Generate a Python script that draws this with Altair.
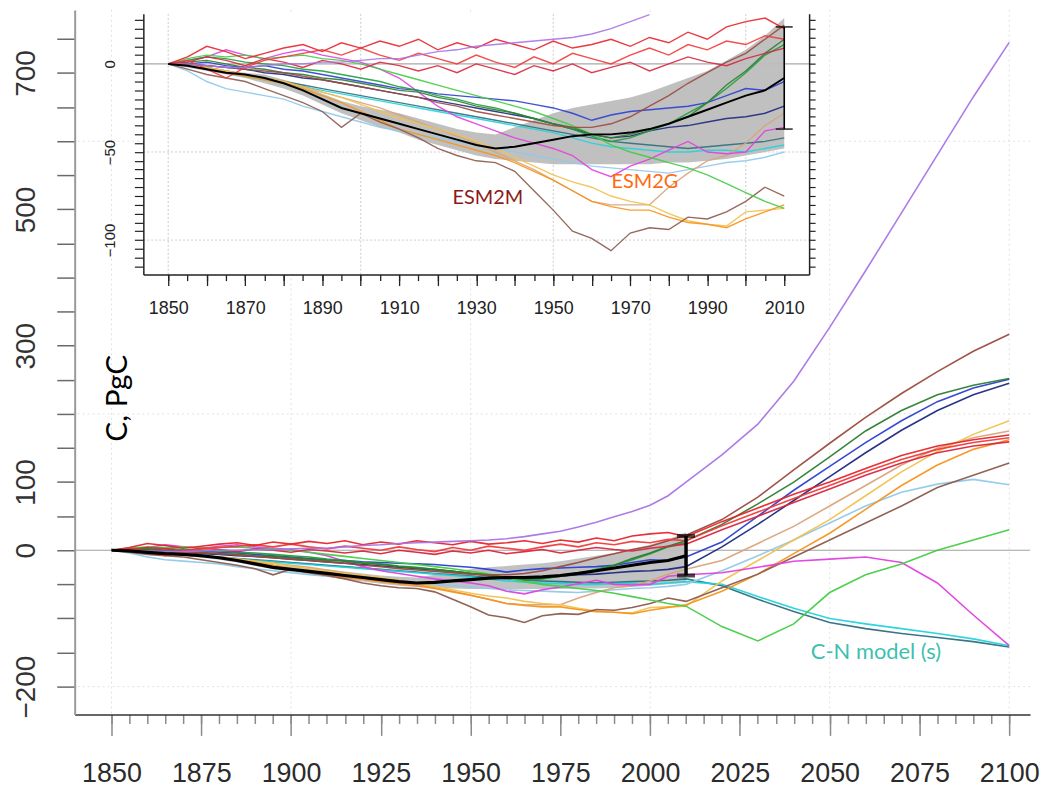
import altair as alt
import pandas as pd

# ---------------- data ----------------
YEARS = [1850, 1855, 1860, 1865, 1870, 1875, 1880, 1885, 1890, 1895,
         1900, 1905, 1910, 1915, 1920, 1925, 1930, 1935, 1940, 1945,
         1950, 1955, 1960, 1965, 1970, 1975, 1980, 1985, 1990, 1995,
         2000, 2005, 2010,
         2020, 2030, 2040, 2050, 2060, 2070, 2080, 2090, 2100]
HIST_YEARS = YEARS[:33]

purple = [0, 0, -1, -2, -2, -1, 0, 0, 1, 1,
          2, 3, 3, 5, 7, 8, 10, 11, 12, 13,
          14, 15, 17, 20, 24, 28, 34, 41, 49, 57,
          66, 80, 100,
          140, 185, 248, 327, 410, 495, 580, 665, 745]
red1 = [0, 4, 10, 7, 3, 6, 9, 11, 7, 12,
        9, 13, 10, 14, 8, 12, 9, 14, 11, 8,
        13, 9, 11, 14, 10, 15, 12, 18, 14, 21,
        24, 26, 20,
        42, 62, 82, 100, 120, 139, 153, 162, 169]
red2 = [0, 2, -3, -8, -2, 2, 4, 6, 8, 5,
        9, 5, 2, 6, 3, 0, 5, 1, -2, 4,
        0, 6, 3, 0, 5, 9, 5, 11, 8, 13,
        11, 16, 14,
        36, 56, 76, 95, 115, 133, 148, 158, 165]
red3 = [0, 1, 4, 2, -1, 3, 1, -2, 2, 0,
        -3, 1, -1, -4, -1, -5, 0, -3, -6, -1,
        -4, 0, -5, -2, 1, -4, 0, 4, 1, -1,
        3, 6, 9,
        30, 50, 70, 90, 110, 128, 143, 153, 159]
brown_top = [0, 0, -1, -2, -3, -4, -5, -7, -9, -11,
             -13, -15, -17, -19, -22, -24, -27, -29, -31, -33,
             -35, -36, -36, -34, -30, -24, -18, -11, -5, 1,
             6, 14, 22,
             45, 78, 118, 157, 195, 230, 262, 292, 317]
dkgreen = [0, 1, 2, 0, -2, -3, -5, -6, -8, -9,
           -11, -13, -15, -16, -19, -21, -24, -26, -28, -31,
           -34, -36, -40, -42, -40, -37, -34, -30, -22, -12,
           -4, 6, 14,
           38, 68, 100, 137, 175, 205, 228, 242, 252]
green = [0, 3, 5, 4, 5, 3, 4, 5, 3, 2,
         0, -3, -6, -9, -12, -15, -18, -21, -24, -27,
         -31, -35, -40, -46, -50, -53, -56, -59, -63, -68,
         -73, -78, -82,
         -112, -133, -108, -62, -36, -20, 0, 15, 30]
green2 = [0, 2, 4, 3, 1, 0, -1, -3, -4, -6,
          -8, -10, -13, -15, -18, -20, -23, -25, -28, -31,
          -34, -37, -41, -44, -42, -38, -34, -28, -22, -14,
          -5, 5, 11,
          None, None, None, None, None, None, None, None, None]
blue1 = [0, 0, 1, -1, -2, -1, -3, -4, -6, -8,
         -10, -12, -14, -15, -17, -18, -19, -20, -21, -23,
         -25, -28, -32, -29, -27, -26, -25, -24, -22, -18,
         -14, -15, -10,
         12, 50, 88, 123, 158, 190, 218, 238, 251]
navy = [0, 0, -1, -2, -3, -5, -6, -8, -9, -11,
        -13, -15, -17, -19, -21, -23, -25, -27, -29, -31,
        -34, -37, -40, -42, -41, -38, -36, -35, -33, -31,
        -30, -28, -24,
        5, 38, 73, 108, 143, 176, 205, 228, 245]
esm2m = [0, -3, -6, -8, -10, -14, -18, -22, -27, -36,
         -28, -33, -37, -42, -48, -52, -55, -56, -61, -72,
         -83, -95, -99, -106, -96, -93, -94, -87, -88, -84,
         -78, -70, -75,
         -55, -35, -10, 15, 40, 65, 92, 110, 128]
orange = [0, -1, -3, -5, -7, -9, -11, -14, -18, -22,
          -27, -32, -37, -40, -43, -46, -49, -52, -56, -61,
          -66, -72, -78, -81, -83, -83, -87, -90, -91, -93,
          -88, -84, -80,
          -60, -35, -5, 25, 60, 95, 125, 148, 162]
yellow = [0, -1, -2, -4, -6, -8, -10, -13, -16, -19,
          -23, -27, -31, -34, -37, -40, -44, -48, -53, -58,
          -63, -67, -70, -75, -78, -80, -85, -89, -91, -92,
          -84, -83, -82,
          -45, -15, 15, 45, 80, 115, 145, 170, 190]
tan = [0, -1, -2, -4, -6, -8, -10, -13, -16, -19,
       -22, -25, -29, -33, -37, -41, -45, -50, -55, -60,
       -66, -72, -78, -80, -80, -80, -70, -62, -55, -52,
       -45, -35, -28,
       -15, 10, 35, 65, 95, 125, 150, 165, 175]
lightblue = [0, -4, -10, -14, -16, -18, -20, -24, -27, -30,
             -33, -36, -38, -40, -42, -44, -46, -48, -50, -52,
             -54, -56, -58, -59, -60, -61, -62, -60, -58, -56,
             -55, -53, -50,
             -30, -8, 15, 40, 65, 85, 97, 104, 96]
magenta = [0, 2, 4, 8, 5, 3, 6, 8, 5, 3,
           1, -3, -8, -16, -24, -30, -34, -38, -42, -45,
           -48, -52, -60, -64, -58, -54, -49, -44, -50, -51,
           -50, -38, -36,
           -33, -25, -16, -13, -10, -18, -48, -95, -140]
cyan = [0, -1, -3, -5, -7, -9, -11, -13, -15, -17,
        -19, -21, -23, -25, -27, -29, -31, -33, -35, -37,
        -39, -42, -45, -47, -48, -49, -50, -50, -49, -49,
        -50, -48, -46,
        -50, -68, -85, -100, -108, -115, -122, -130, -140]
teal = [0, -1, -2, -4, -6, -8, -10, -12, -14, -16,
        -18, -20, -22, -24, -26, -28, -30, -32, -34, -36,
        -38, -40, -42, -44, -45, -46, -47, -48, -47, -46,
        -45, -44, -42,
        -52, -72, -90, -106, -115, -122, -128, -134, -142]

mean_hist = [0, -1, -3, -5, -6, -8, -11, -15, -20, -25,
             -28, -31, -34, -37, -40, -43, -46, -48, -47, -45,
             -43, -41, -40, -40, -39, -37, -34, -30, -26, -22,
             -18, -15, -8]
band_lo = [0, -2, -4, -6, -8, -11, -14, -18, -23, -28,
           -32, -36, -39, -43, -46, -49, -52, -54, -55, -56,
           -57, -57, -57, -57, -57, -57, -56, -56, -55, -54,
           -52, -50, -48]
band_hi = [0, 0, -2, -4, -5, -6, -9, -12, -17, -21,
           -24, -26, -28, -31, -34, -37, -39, -40, -36, -32,
           -28, -25, -23, -21, -19, -16, -12, -8, -4, 2,
           8, 16, 26]

SERIES_NAMES = ["teal", "cyan", "lightblue", "tan", "yellow", "orange", "esm2m",
                "magenta", "navy", "blue1", "green2", "green", "dkgreen",
                "brown_top", "red3", "red2", "red1", "purple"]
SERIES_VALUES = [teal, cyan, lightblue, tan, yellow, orange, esm2m,
                 magenta, navy, blue1, green2, green, dkgreen,
                 brown_top, red3, red2, red1, purple]
SERIES_COLORS = ["#2E6F7D", "#22D3DC", "#8FC9EA", "#D9A47A", "#F2C14E", "#F7931E",
                 "#8C5A4E", "#E040E0", "#1C2A80", "#2A3FD0", "#1F9E3A", "#44CC44",
                 "#2E7D32", "#9B4A3E", "#D9263E", "#F23A3A", "#E8232A", "#A974E6"]

ERR_YEAR = [2010]
ERR_LO = [-37]
ERR_HI = [21]

MAIN_X_TICKS_MAJOR = [1850, 1875, 1900, 1925, 1950, 1975, 2000, 2025, 2050, 2075, 2100]
MAIN_X_TICKS_MINOR = list(range(1850, 2101, 5))
MAIN_Y_TICKS = list(range(-200, 751, 50))
MAIN_Y_LABELED = [700, 500, 300, 100, 0, -200]
MAIN_GRID_X = [1850, 1900, 1950, 2000, 2050, 2100]
MAIN_GRID_Y = [-200, 200, 600]

INSET_X_TICKS_MAJOR = list(range(1850, 2011, 10))
INSET_X_TICKS_MINOR = list(range(1850, 2011, 5))
INSET_Y_TICKS = list(range(-115, 26, 5))
INSET_Y_LABELED = [0, -50, -100]
INSET_GRID_X = [1850, 1900, 1950, 2000]
INSET_GRID_Y = [-50, -100]

MAIN_TEXT_YLAB = {"t": ["C, PgC"], "x": [1851.7], "y": [223]}
MAIN_TEXT_CN = {"t": ["C-N model (s)"], "x": [2062.9], "y": [-149]}
INSET_TEXT_M = {"t": ["ESM2M"], "x": [1933], "y": [-76]}
INSET_TEXT_G = {"t": ["ESM2G"], "x": [1973.8], "y": [-67]}

# ---------------- layout ----------------
W, H = 960, 708
MAIN_X_DOMAIN = [1839.75, 2105.8]
MAIN_Y_DOMAIN = [-240.9, 792.7]
INSET_X_DOMAIN = [1843.54, 2016.46]
INSET_Y_DOMAIN = [-119.6, 28.4]
INSET_X_RANGE = [69, 738]
INSET_Y_RANGE = [266, 4]

for v in SERIES_VALUES:
    assert len(v) == len(YEARS)

rows = []
for name, vals in zip(SERIES_NAMES, SERIES_VALUES):
    for yr, v in zip(YEARS, vals):
        if v is not None:
            rows.append({"series": name, "year": yr, "value": v})
df = pd.DataFrame(rows)
mean_df = pd.DataFrame({"year": HIST_YEARS, "value": mean_hist})
band_df = pd.DataFrame({"year": HIST_YEARS, "lo": band_lo, "hi": band_hi})
err_df = pd.DataFrame({"year": ERR_YEAR, "lo": ERR_LO, "hi": ERR_HI})
cap_df = pd.DataFrame({"year": ERR_YEAR * 2, "v": ERR_LO + ERR_HI})

MX = alt.Scale(domain=MAIN_X_DOMAIN, nice=False, zero=False)
MY = alt.Scale(domain=MAIN_Y_DOMAIN, nice=False, zero=False)
IX = alt.Scale(domain=INSET_X_DOMAIN, range=INSET_X_RANGE, nice=False, zero=False)
IY = alt.Scale(domain=INSET_Y_DOMAIN, range=INSET_Y_RANGE, nice=False, zero=False)
CS = alt.Scale(domain=SERIES_NAMES, range=SERIES_COLORS)

FONT = "Liberation Sans"

ax_main_x = alt.Axis(orient="bottom", values=MAIN_X_TICKS_MAJOR, format="d", title=None,
                     grid=False, tickSize=21, tickColor="#8a8a8a", tickWidth=1.5,
                     domainColor="#333333", domainWidth=1.5,
                     labelFont=FONT, labelFontSize=27, labelColor="#2b2b2b",
                     labelBaseline="alphabetic", labelPadding=46,
                     labelFlush=False, labelOverlap=False)
ax_main_minor = alt.Axis(orient="bottom", values=MAIN_X_TICKS_MINOR, title=None, grid=False,
                         labels=False, domain=False, tickSize=9, tickColor="#8a8a8a",
                         tickWidth=1.5)
ax_main_y = alt.Axis(orient="left", values=MAIN_Y_TICKS, format="d", title=None, grid=False,
                     tickSize=18, tickColor="#6a6a6a", tickWidth=1.5,
                     domainColor="#9a9a9a", domainWidth=2,
                     labelExpr="indexof(" + str(MAIN_Y_LABELED) + ", datum.value) >= 0 ? datum.label : ''",
                     labelAngle=270, labelAlign="center", labelBaseline="bottom",
                     labelFont=FONT, labelFontSize=28, labelColor="#333333",
                     labelPadding=16, labelFlush=False, labelOverlap=False)

ax_in_x = alt.Axis(orient="bottom", offset=-442, values=INSET_X_TICKS_MAJOR, format="d",
                   title=None, grid=False, tickSize=11, tickColor="#222222", tickWidth=1.3,
                   domainColor="#222222", domainWidth=1.5,
                   labelExpr="(datum.value - 1850) % 20 == 0 ? datum.label : ''",
                   labelFont=FONT, labelFontSize=18, labelColor="#222222",
                   labelBaseline="alphabetic", labelPadding=28,
                   labelFlush=False, labelOverlap=False, zindex=2)
ax_in_minor = alt.Axis(orient="bottom", offset=-442, values=INSET_X_TICKS_MINOR, title=None,
                       grid=False, labels=False, domain=False, tickSize=6,
                       tickColor="#222222", tickWidth=1.3, zindex=2)
ax_in_left = alt.Axis(orient="left", offset=-69, values=INSET_Y_TICKS, format="d", title=None,
                      grid=False, tickSize=9, tickColor="#222222", tickWidth=1.2,
                      domainColor="#222222", domainWidth=1.5,
                      labelExpr="indexof(" + str(INSET_Y_LABELED) + ", datum.value) >= 0 ? datum.label : ''",
                      labelAngle=270, labelAlign="center", labelBaseline="bottom",
                      labelFont=FONT, labelFontSize=15, labelColor="#222222",
                      labelPadding=17, labelFlush=False, labelOverlap=False, zindex=2)
ax_in_right = alt.Axis(orient="right", offset=-222, values=INSET_Y_TICKS, title=None,
                       grid=False, labels=False, tickSize=6, tickColor="#222222",
                       tickWidth=1.2, domainColor="#222222", domainWidth=1.5, zindex=2)

# ---------------- main panel ----------------
m_gridx = alt.Chart(pd.DataFrame({"v": MAIN_GRID_X})).mark_rule(
    color="#e2e2e2", strokeDash=[2, 3], strokeWidth=1).encode(
    x=alt.X("v:Q", scale=MX, axis=ax_main_minor))
m_gridy = alt.Chart(pd.DataFrame({"v": MAIN_GRID_Y})).mark_rule(
    color="#e2e2e2", strokeDash=[2, 3], strokeWidth=1).encode(
    y=alt.Y("v:Q", scale=MY, axis=ax_main_y))
m_zero = alt.Chart(pd.DataFrame({"v": [0]})).mark_rule(color="#a0a0a0", strokeWidth=1.2).encode(
    y=alt.Y("v:Q", scale=MY, axis=None))
m_band = alt.Chart(band_df).mark_area(color="#bfbfbf", opacity=0.95).encode(
    x=alt.X("year:Q", scale=MX, axis=None),
    y=alt.Y("lo:Q", scale=MY, axis=None), y2="hi:Q")
m_lines = alt.Chart(df).mark_line(strokeWidth=1.6, opacity=0.95).encode(
    x=alt.X("year:Q", scale=MX, axis=ax_main_x),
    y=alt.Y("value:Q", scale=MY, axis=None),
    color=alt.Color("series:N", scale=CS, legend=None))
m_mean = alt.Chart(mean_df).mark_line(color="black", strokeWidth=3.2).encode(
    x=alt.X("year:Q", scale=MX, axis=None), y=alt.Y("value:Q", scale=MY, axis=None))
m_err = alt.Chart(err_df).mark_rule(color="black", strokeWidth=3.5).encode(
    x=alt.X("year:Q", scale=MX, axis=None),
    y=alt.Y("lo:Q", scale=MY, axis=None), y2="hi:Q")
m_caps = alt.Chart(cap_df).mark_tick(orient="horizontal", size=18, thickness=4, color="black").encode(
    x=alt.X("year:Q", scale=MX, axis=None), y=alt.Y("v:Q", scale=MY, axis=None))
m_ylab = alt.Chart(pd.DataFrame(MAIN_TEXT_YLAB)).mark_text(
    font="Lato", fontSize=30, color="black", angle=270, align="center", baseline="middle").encode(
    x=alt.X("x:Q", scale=MX, axis=None), y=alt.Y("y:Q", scale=MY, axis=None), text="t:N")
m_cn = alt.Chart(pd.DataFrame(MAIN_TEXT_CN)).mark_text(
    font="Lato", fontSize=22, color="#40BFB0", align="center", baseline="middle").encode(
    x=alt.X("x:Q", scale=MX, axis=None), y=alt.Y("y:Q", scale=MY, axis=None), text="t:N")

main = alt.layer(m_gridx, m_gridy, m_zero, m_band, m_lines, m_mean, m_err, m_caps,
                 m_ylab, m_cn).resolve_axis(x="independent", y="independent")

# ---------------- inset panel ----------------
bg_df = pd.DataFrame({"x0": [INSET_X_DOMAIN[0]], "x1": [INSET_X_DOMAIN[1]],
                      "y0": [INSET_Y_DOMAIN[0]], "y1": [INSET_Y_DOMAIN[1]]})
gx_df = pd.DataFrame({"v": INSET_GRID_X, "y0": [INSET_Y_DOMAIN[0]] * len(INSET_GRID_X),
                      "y1": [INSET_Y_DOMAIN[1]] * len(INSET_GRID_X)})
gy_df = pd.DataFrame({"v": INSET_GRID_Y, "x0": [INSET_X_DOMAIN[0]] * len(INSET_GRID_Y),
                      "x1": [INSET_X_DOMAIN[1]] * len(INSET_GRID_Y)})
z_df = pd.DataFrame({"v": [0], "x0": [INSET_X_DOMAIN[0]], "x1": [INSET_X_DOMAIN[1]]})

i_bg = alt.Chart(bg_df).mark_rect(color="white").encode(
    x=alt.X("x0:Q", scale=IX, axis=ax_in_minor), x2="x1:Q",
    y=alt.Y("y0:Q", scale=IY, axis=ax_in_left), y2="y1:Q")
i_gridx = alt.Chart(gx_df).mark_rule(color="#cccccc", strokeDash=[2, 2], strokeWidth=1).encode(
    x=alt.X("v:Q", scale=IX, axis=None),
    y=alt.Y("y0:Q", scale=IY, axis=None), y2="y1:Q")
i_gridy = alt.Chart(gy_df).mark_rule(color="#cccccc", strokeDash=[2, 2], strokeWidth=1).encode(
    y=alt.Y("v:Q", scale=IY, axis=ax_in_right),
    x=alt.X("x0:Q", scale=IX, axis=None), x2="x1:Q")
i_zero = alt.Chart(z_df).mark_rule(color="#a8a8a8", strokeWidth=1.2).encode(
    y=alt.Y("v:Q", scale=IY, axis=None),
    x=alt.X("x0:Q", scale=IX, axis=None), x2="x1:Q")
i_band = alt.Chart(band_df).mark_area(color="#bdbdbd", opacity=0.95).encode(
    x=alt.X("year:Q", scale=IX, axis=None),
    y=alt.Y("lo:Q", scale=IY, axis=None), y2="hi:Q")
i_lines = alt.Chart(df).transform_filter(
    "datum.year <= 2010 && datum.value <= " + str(INSET_Y_DOMAIN[1])).mark_line(
    strokeWidth=1.4, opacity=0.9).encode(
    x=alt.X("year:Q", scale=IX, axis=ax_in_x),
    y=alt.Y("value:Q", scale=IY, axis=None),
    color=alt.Color("series:N", scale=CS, legend=None))
i_mean = alt.Chart(mean_df).mark_line(color="black", strokeWidth=2).encode(
    x=alt.X("year:Q", scale=IX, axis=None), y=alt.Y("value:Q", scale=IY, axis=None))
i_err = alt.Chart(err_df).mark_rule(color="black", strokeWidth=1.6).encode(
    x=alt.X("year:Q", scale=IX, axis=None),
    y=alt.Y("lo:Q", scale=IY, axis=None), y2="hi:Q")
i_caps = alt.Chart(cap_df).mark_tick(orient="horizontal", size=17, thickness=1.8, color="black").encode(
    x=alt.X("year:Q", scale=IX, axis=None), y=alt.Y("v:Q", scale=IY, axis=None))
i_tm = alt.Chart(pd.DataFrame(INSET_TEXT_M)).mark_text(
    font="Lato", fontSize=20, color="#8B1A1A", align="center", baseline="middle").encode(
    x=alt.X("x:Q", scale=IX, axis=None), y=alt.Y("y:Q", scale=IY, axis=None), text="t:N")
i_tg = alt.Chart(pd.DataFrame(INSET_TEXT_G)).mark_text(
    font="Lato", fontSize=20, color="#FF6A10", align="center", baseline="middle").encode(
    x=alt.X("x:Q", scale=IX, axis=None), y=alt.Y("y:Q", scale=IY, axis=None), text="t:N")

inset = alt.layer(i_bg, i_gridx, i_gridy, i_zero, i_band, i_lines, i_mean, i_err, i_caps,
                  i_tm, i_tg).resolve_axis(x="independent", y="independent")

chart = alt.layer(main, inset).resolve_scale(x="independent", y="independent").properties(
    width=W, height=H,
    autosize=alt.AutoSizeParams(type="none"),
    padding={"left": 67, "top": 0, "right": 10, "bottom": 77},
).configure_view(strokeWidth=0)

chart.save("out.html", embed_options={"renderer": "svg", "actions": False})
